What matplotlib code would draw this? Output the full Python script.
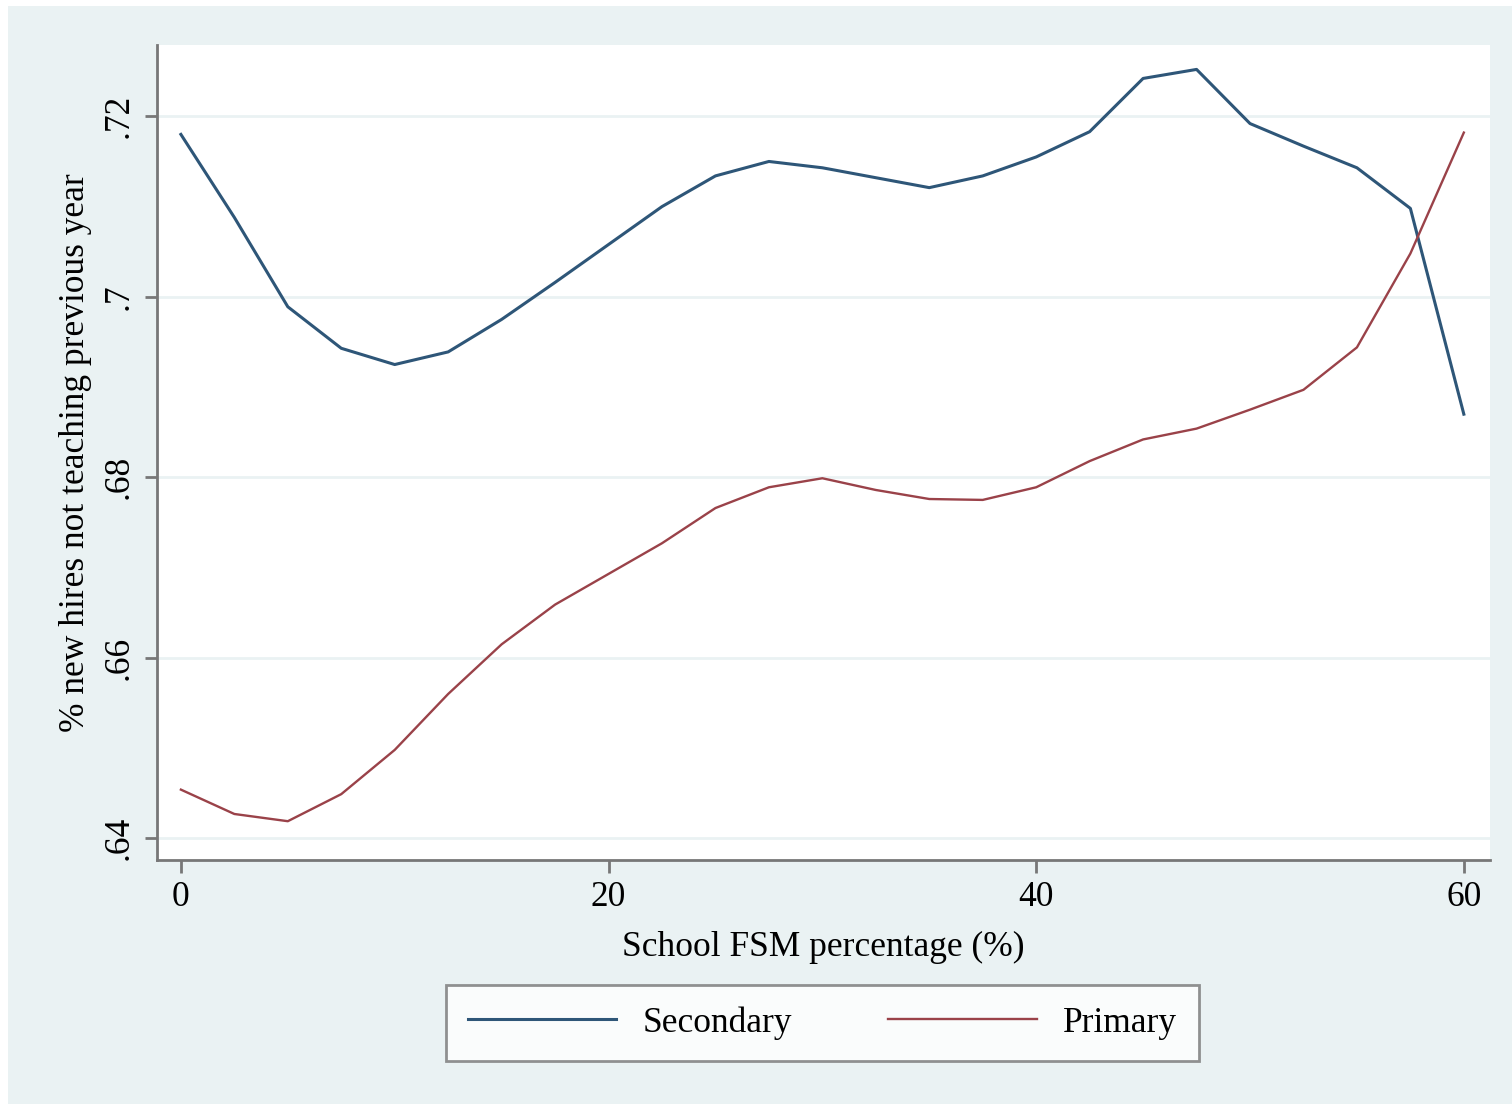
import matplotlib.pyplot as plt
from matplotlib.patches import Rectangle

plt.rcParams['font.family'] = ['Liberation Serif', 'DejaVu Serif']

# FSM percentage bins
fsm = [0, 2.5, 5, 7.5, 10, 12.5, 15, 17.5, 20, 22.5, 25, 27.5, 30,
       32.5, 35, 37.5, 40, 42.5, 45, 47.5, 50, 52.5, 55, 57.5, 60]

secondary = [0.7180, 0.7088, 0.6989, 0.6943, 0.6925, 0.6939, 0.6975, 0.7016,
             0.7058, 0.7100, 0.7134, 0.7150, 0.7143, 0.7132, 0.7121, 0.7134,
             0.7155, 0.7183, 0.7242, 0.7252, 0.7192, 0.7167, 0.7143, 0.7098,
             0.6870]

primary = [0.6454, 0.6427, 0.6419, 0.6449, 0.6498, 0.6560, 0.6615, 0.6659,
           0.6693, 0.6727, 0.6766, 0.6789, 0.6799, 0.6786, 0.6776, 0.6775,
           0.6789, 0.6818, 0.6842, 0.6854, 0.6875, 0.6897, 0.6944, 0.7048,
           0.7182]

yticks = [0.64, 0.66, 0.68, 0.70, 0.72]
ytick_labels = ['.64', '.66', '.68', '.7', '.72']
xticks = [0, 20, 40, 60]

fig = plt.figure(figsize=(15.12, 11.04), dpi=100, facecolor='white')
# Stata-style outer background
fig.patches.append(Rectangle((0.005, 0.0), 0.995, 0.995, transform=fig.transFigure,
                             facecolor='#EAF2F3', edgecolor='none', zorder=-10))

ax = fig.add_axes([0.1038, 0.221, 0.9854 - 0.1038, 0.9592 - 0.221])
ax.set_facecolor('white')

ax.plot(fsm, secondary, color='#2E5678', lw=2.2, label='Secondary')
ax.plot(fsm, primary, color='#9A4249', lw=1.7, label='Primary')

ax.set_xlim(-1.12, 61.22)
ax.set_ylim(0.6376, 0.7279)
ax.set_xticks(xticks)
ax.set_yticks(yticks)
ax.set_yticklabels(ytick_labels, rotation=90, va='center')

for y in yticks:
    ax.axhline(y, color='#EAF2F3', lw=2, zorder=0)

for side in ['top', 'right']:
    ax.spines[side].set_visible(False)
for side in ['left', 'bottom']:
    ax.spines[side].set_color('#777777')
    ax.spines[side].set_linewidth(2)

ax.tick_params(axis='both', direction='out', length=9, width=2, color='#777777',
               labelsize=25.5, pad=6)

ax.set_xlabel('School FSM percentage (%)', fontsize=25.5, labelpad=12)
ax.set_ylabel('% new hires not teaching previous year', fontsize=25.5, labelpad=8)

leg = fig.legend(loc='center', bbox_to_anchor=(0.544, 0.0734), ncol=2,
                 fontsize=25.5, frameon=True, fancybox=False, handlelength=4.2,
                 handletextpad=0.75, columnspacing=2.7, borderpad=0.6)
leg.get_frame().set_edgecolor('#777777')
leg.get_frame().set_linewidth(2)
leg.get_frame().set_facecolor('white')

fig.savefig('out.png', dpi=100, facecolor=fig.get_facecolor())
